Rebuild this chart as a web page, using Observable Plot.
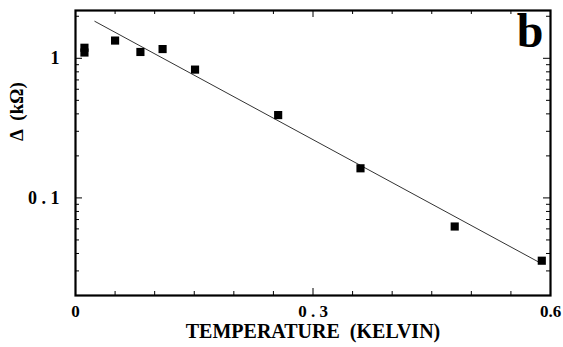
<!DOCTYPE html>
<html>
<head>
<meta charset="utf-8">
<script src="https://cdn.jsdelivr.net/npm/d3@7"></script>
<script src="https://cdn.jsdelivr.net/npm/@observablehq/plot@0.6"></script>
<style>
  body { margin: 0; background: #fff; }
</style>
</head>
<body>
<div id="chart"></div>
<script>
// Data points
const temperature = [0.0113, 0.0113, 0.050, 0.082, 0.110, 0.151, 0.256, 0.360, 0.479, 0.589];
const delta       = [1.19,   1.10,   1.34,  1.11,  1.165, 0.83,  0.392, 0.163, 0.0624, 0.0355];

// Fitted line endpoints
const fitT = [0.0244, 0.586];
const fitD = [1.84, 0.0345];

// Ticks and labels
const xMajorTicks = [0, 0.3, 0.6];
const xTickLabels = ["0", "0 . 3", "0.6"];
const xMinorTicks = [0.05, 0.1, 0.15, 0.2, 0.25, 0.35, 0.4, 0.45, 0.5, 0.55];
const yMajorTicks = [0.1, 1];
const yTickLabels = ["0 . 1", "1"];
const yMinorTicks = [0.03, 0.04, 0.05, 0.06, 0.07, 0.08, 0.09, 0.2, 0.3, 0.4, 0.5, 0.6, 0.7, 0.8, 0.9, 2];

const xLabel = "TEMPERATURE  (KELVIN)";
const yLabel = "Δ  (kΩ)";
const panelLabel = "b";

const points = temperature.map((t, i) => ({t, d: delta[i]}));
const fit = fitT.map((t, i) => ({t, d: fitD[i]}));
const xLab = xMajorTicks.map((v, i) => ({v, s: xTickLabels[i]}));
const yLab = yMajorTicks.map((v, i) => ({v, s: yTickLabels[i]}));

const W = 563, H = 347, mL = 75, mR = 13, mT = 10, mB = 52;
const pw = W - mL - mR, ph = H - mT - mB;

const chart = Plot.plot({
  width: W,
  height: H,
  marginLeft: mL,
  marginRight: mR,
  marginTop: mT,
  marginBottom: mB,
  x: {domain: [0, 0.6], axis: null},
  y: {type: "log", domain: [0.02, 2.2], axis: null},
  style: {background: "#fff", color: "#000", fontFamily: "'Liberation Serif', 'DejaVu Serif', serif", fontWeight: "bold"},
  marks: [
    // minor ticks (inward) on all sides
    Plot.tickX(xMinorTicks, {x: d => d, insetTop: ph - 4, stroke: "#000"}),
    Plot.tickX(xMinorTicks, {x: d => d, insetBottom: ph - 4, stroke: "#000"}),
    Plot.tickY(yMinorTicks, {y: d => d, insetRight: pw - 4, stroke: "#000"}),
    Plot.tickY(yMinorTicks, {y: d => d, insetLeft: pw - 4, stroke: "#000"}),
    // major ticks (inward)
    Plot.tickX(xMajorTicks, {x: d => d, insetTop: ph - 7, stroke: "#000"}),
    Plot.tickX(xMajorTicks, {x: d => d, insetBottom: ph - 7, stroke: "#000"}),
    Plot.tickY(yMajorTicks, {y: d => d, insetRight: pw - 7, stroke: "#000"}),
    Plot.tickY(yMajorTicks, {y: d => d, insetLeft: pw - 7, stroke: "#000"}),
    // tick labels
    Plot.text(xLab, {x: "v", text: "s", frameAnchor: "bottom", dy: 21, fontSize: 17, fontWeight: "bold"}),
    Plot.text(yLab, {y: "v", text: "s", frameAnchor: "left", dx: -16, textAnchor: "end", fontSize: 18, fontWeight: "bold"}),
    Plot.frame({strokeWidth: 2.2, stroke: "#000"}),
    Plot.line(fit, {x: "t", y: "d", stroke: "#333", strokeWidth: 1}),
    Plot.dot(points, {x: "t", y: "d", symbol: "square", r: 4.6, fill: "#000", stroke: null}),
    Plot.text([panelLabel], {frameAnchor: "top-right", text: d => d, dx: -7, dy: 2, fontSize: 48, lineAnchor: "top", fontWeight: "bold"}),
    Plot.text([xLabel], {frameAnchor: "bottom", text: d => d, dy: 42, fontSize: 20, fontWeight: "bold"}),
    Plot.text([yLabel], {frameAnchor: "left", text: d => d, dx: -59, dy: -12, rotate: -90, fontSize: 19, fontWeight: "bold"})
  ]
});
document.getElementById("chart").appendChild(chart);
</script>
</body>
</html>
